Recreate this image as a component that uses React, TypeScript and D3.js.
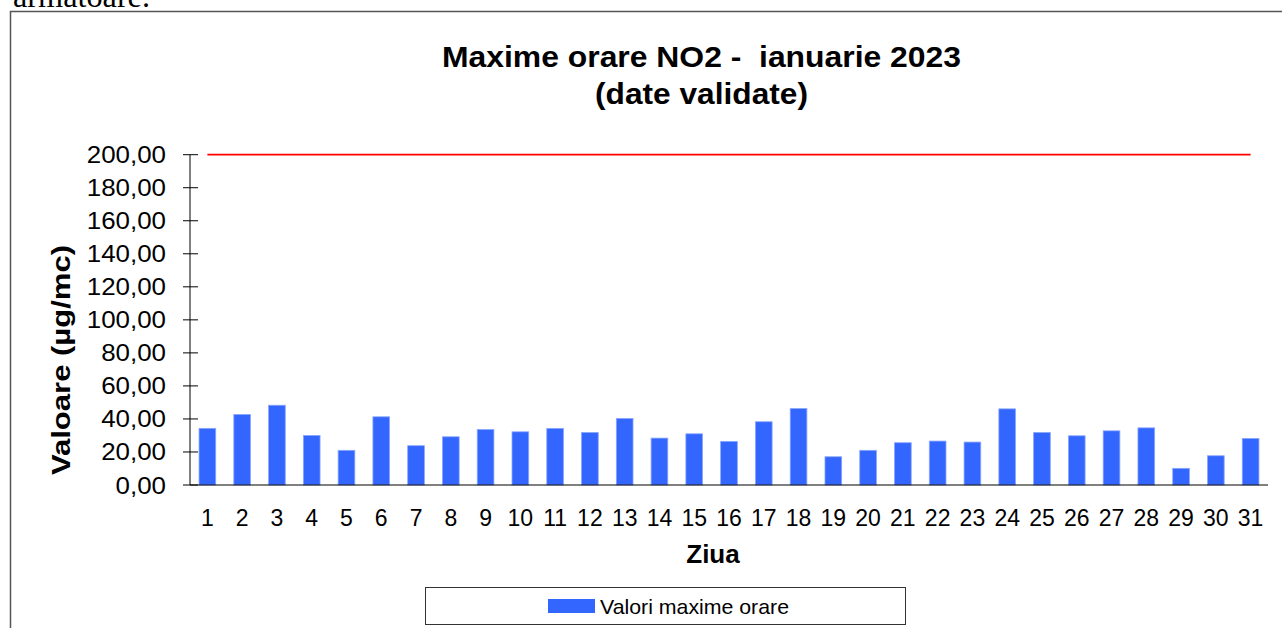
import React, { useRef, useEffect } from 'react';
import * as d3 from 'd3';

// daily hourly maxima NO2, january 2023 (µg/mc)
const days = d3.range(1, 32).map(String);
const maxValues = [
  34.3, 42.7, 48.3, 30.0, 21.0, 41.3, 23.8, 29.2, 33.6, 32.2,
  34.3, 31.8, 40.3, 28.4, 31.0, 26.4, 38.3, 46.3, 17.1, 21.0,
  25.6, 26.6, 26.0, 46.1, 31.8, 29.8, 32.8, 34.6, 10.1, 17.7, 28.2,
];
const limitValue = 200;
const yTicks = [0, 20, 40, 60, 80, 100, 120, 140, 160, 180, 200];
const titleLines = ['Maxime orare NO2 -  ianuarie 2023', '(date validate)'];
const legendLabel = 'Valori maxime orare';

const fmt = (v: number) => v.toFixed(2).replace('.', ',');

function App() {
  const svgRef = useRef<SVGSVGElement>(null);

  useEffect(() => {
    const svg = d3.select(svgRef.current);
    svg.selectAll('*').remove();

    const width = 1282;
    const height = 628;
    const plot = { left: 190, right: 1268, top: 154.7, bottom: 485 };
    const font = 'Arial, "Liberation Sans", sans-serif';

    svg.attr('width', width).attr('height', height);

    // cut-off line of document text above the chart
    svg.append('text')
      .attr('x', 13)
      .attr('y', 7)
      .attr('font-family', '"Liberation Serif", "Times New Roman", serif')
      .attr('font-size', 32)
      .attr('textLength', 137)
      .attr('lengthAdjust', 'spacingAndGlyphs')
      .text('armatoare.');

    // chart frame
    svg.append('rect')
      .attr('x', 10.5)
      .attr('y', 11.5)
      .attr('width', 1290)
      .attr('height', 640)
      .attr('fill', 'none')
      .attr('stroke', '#555')
      .attr('stroke-width', 1.5);

    // title
    const titleG = svg.append('g')
      .attr('font-family', font)
      .attr('font-weight', 'bold')
      .attr('font-size', 30)
      .attr('text-anchor', 'middle');
    titleG.append('text')
      .attr('x', 701.5).attr('y', 67)
      .attr('textLength', 519)
      .attr('lengthAdjust', 'spacingAndGlyphs')
      .attr('xml:space', 'preserve')
      .text(titleLines[0]);
    titleG.append('text')
      .attr('x', 701.5).attr('y', 104)
      .attr('textLength', 213)
      .attr('lengthAdjust', 'spacingAndGlyphs')
      .text(titleLines[1]);

    const x = d3.scaleBand<string>()
      .domain(days)
      .range([plot.left, plot.right])
      .paddingInner(0.52)
      .paddingOuter(0.26);

    const y = d3.scaleLinear()
      .domain([0, 200])
      .range([plot.bottom, plot.top]);

    // bars
    svg.append('g')
      .selectAll('rect')
      .data(maxValues)
      .enter()
      .append('rect')
      .attr('x', (d, i) => x(days[i])!)
      .attr('y', d => y(d))
      .attr('width', x.bandwidth())
      .attr('height', d => y(0) - y(d))
      .attr('fill', '#3366ff')
      .attr('stroke', '#8aa6ff')
      .attr('stroke-width', 0.8);

    // limit line (red)
    const line = d3.line<string>()
      .x(d => x(d)! + x.bandwidth() / 2)
      .y(() => y(limitValue));
    svg.append('path')
      .datum(days)
      .attr('d', line)
      .attr('fill', 'none')
      .attr('stroke', '#ff0000')
      .attr('stroke-width', 1.8);

    // y axis
    const yAxis = svg.append('g');
    yAxis.append('line')
      .attr('x1', plot.left).attr('x2', plot.left)
      .attr('y1', y(200)).attr('y2', y(0))
      .attr('stroke', '#000');
    yAxis.selectAll('.tick')
      .data(yTicks)
      .enter()
      .append('line')
      .attr('x1', plot.left - 7).attr('x2', plot.left + 8)
      .attr('y1', d => y(d)).attr('y2', d => y(d))
      .attr('stroke', '#000');
    yAxis.selectAll('.lbl')
      .data(yTicks)
      .enter()
      .append('text')
      .attr('transform', d => `translate(166, ${y(d) + 8.5}) scale(1.08, 1)`)
      .attr('text-anchor', 'end')
      .attr('font-family', font)
      .attr('font-size', 24)
      .text(d => fmt(d));

    // x axis
    svg.append('line')
      .attr('x1', plot.left).attr('x2', plot.right)
      .attr('y1', y(0)).attr('y2', y(0))
      .attr('stroke', '#000');
    svg.append('g')
      .selectAll('text')
      .data(days)
      .enter()
      .append('text')
      .attr('x', d => x(d)! + x.bandwidth() / 2)
      .attr('y', 526)
      .attr('text-anchor', 'middle')
      .attr('font-family', font)
      .attr('font-size', 23)
      .text(d => d);

    // axis titles
    svg.append('text')
      .attr('x', 713).attr('y', 563)
      .attr('text-anchor', 'middle')
      .attr('font-family', font)
      .attr('font-weight', 'bold')
      .attr('font-size', 26)
      .text('Ziua');
    svg.append('text')
      .attr('transform', 'translate(70, 360) rotate(-90)')
      .attr('text-anchor', 'middle')
      .attr('font-family', font)
      .attr('font-weight', 'bold')
      .attr('font-size', 25)
      .attr('textLength', 230)
      .attr('lengthAdjust', 'spacingAndGlyphs')
      .text('Valoare (µg/mc)');

    // legend
    const legend = svg.append('g');
    legend.append('rect')
      .attr('x', 425.5).attr('y', 587.5)
      .attr('width', 480).attr('height', 37)
      .attr('fill', '#fff')
      .attr('stroke', '#333');
    legend.append('rect')
      .attr('x', 548).attr('y', 599)
      .attr('width', 47).attr('height', 14)
      .attr('fill', '#3366ff');
    legend.append('text')
      .attr('x', 600).attr('y', 614)
      .attr('font-family', font)
      .attr('font-size', 21)
      .attr('textLength', 189)
      .attr('lengthAdjust', 'spacingAndGlyphs')
      .text(legendLabel);
  }, []);

  return (
    <svg ref={svgRef} style={{ position: 'absolute', left: 0, top: 0, background: '#fff' }}></svg>
  );
}

export default App;
